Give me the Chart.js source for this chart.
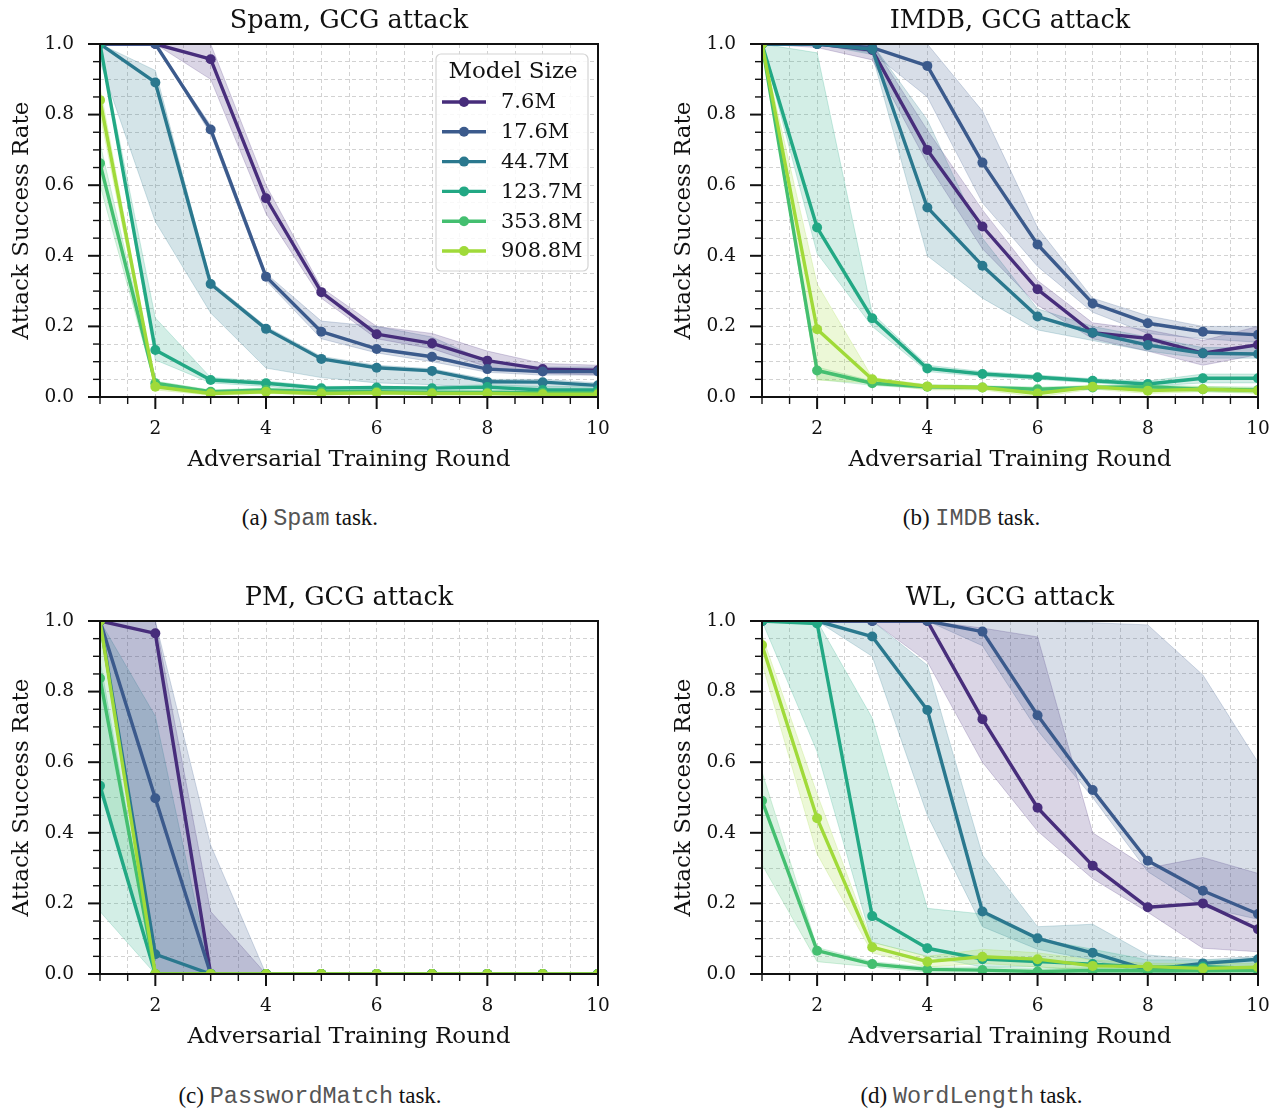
<!DOCTYPE html>
<html>
<head>
<meta charset="utf-8">
<script src="https://cdn.jsdelivr.net/npm/chart.js@4.4.1/dist/chart.umd.min.js"></script>
<style>
  html, body { margin: 0; padding: 0; background: #ffffff; }
  body { width: 1281px; height: 1112px; position: relative; overflow: hidden; }
  canvas { position: absolute; }
  .cap { position: absolute; text-align: center; font-family: 'Liberation Serif', serif; font-size: 23px; color: #111; line-height: 26px; white-space: nowrap; }
  .cap span { font-family: 'Liberation Mono', monospace; font-size: 23.5px; color: #555; }
</style>
</head>
<body>
<canvas id="cSpam" width="620" height="475" style="left:0px;top:0px"></canvas>
<canvas id="cImdb" width="619" height="475" style="left:662px;top:0px"></canvas>
<canvas id="cPm" width="620" height="475" style="left:0px;top:577px"></canvas>
<canvas id="cWl" width="619" height="475" style="left:662px;top:577px"></canvas>

<div class="cap" style="left:0px;width:620px;top:505px">(a) <span>Spam</span> task.</div>
<div class="cap" style="left:662px;width:619px;top:505px">(b) <span>IMDB</span> task.</div>
<div class="cap" style="left:0px;width:620px;top:1083px">(c) <span>PasswordMatch</span> task.</div>
<div class="cap" style="left:662px;width:619px;top:1083px">(d) <span>WordLength</span> task.</div>

<script>
// Adversarial training rounds and model sizes
const rounds = [1, 2, 3, 4, 5, 6, 7, 8, 9, 10];
const modelSizes = ['7.6M', '17.6M', '44.7M', '123.7M', '353.8M', '908.8M'];
const xTickLabels = [2, 4, 6, 8, 10];
const yTickLabels = [0.0, 0.2, 0.4, 0.6, 0.8, 1.0];
const seriesColors = ['#472d7b', '#3b5a8c', '#2a788e', '#22a884', '#44bf70', '#a0da39'];

// Spam task: mean attack success rate and band limits (one row per model size)
const spamMean = [
  [1, 1, 0.957, 0.563, 0.297, 0.178, 0.152, 0.103, 0.079, 0.076],
  [1, 1, 0.758, 0.341, 0.185, 0.136, 0.114, 0.079, 0.072, 0.072],
  [1, 0.891, 0.320, 0.193, 0.108, 0.083, 0.074, 0.043, 0.042, 0.033],
  [1, 0.133, 0.048, 0.039, 0.025, 0.027, 0.025, 0.028, 0.020, 0.020],
  [0.662, 0.039, 0.015, 0.020, 0.015, 0.015, 0.013, 0.013, 0.012, 0.012],
  [0.841, 0.029, 0.010, 0.015, 0.010, 0.012, 0.010, 0.010, 0.008, 0.008]
];
const spamHigh = [
  [1, 1, 1.0, 0.600, 0.310, 0.200, 0.180, 0.130, 0.095, 0.090],
  [1, 1, 0.770, 0.350, 0.215, 0.200, 0.170, 0.100, 0.085, 0.085],
  [1, 0.925, 0.327, 0.200, 0.115, 0.090, 0.080, 0.050, 0.050, 0.040],
  [1, 0.224, 0.055, 0.045, 0.030, 0.030, 0.030, 0.035, 0.030, 0.030],
  [0.720, 0.045, 0.020, 0.025, 0.020, 0.020, 0.018, 0.018, 0.016, 0.016],
  [0.880, 0.035, 0.015, 0.020, 0.015, 0.016, 0.014, 0.014, 0.012, 0.012]
];
const spamLow = [
  [1, 1, 0.900, 0.520, 0.280, 0.165, 0.137, 0.085, 0.067, 0.062],
  [1, 1, 0.745, 0.330, 0.165, 0.125, 0.100, 0.070, 0.062, 0.062],
  [0.950, 0.497, 0.238, 0.082, 0.055, 0.040, 0.035, 0.025, 0.020, 0.020],
  [1, 0.105, 0.040, 0.030, 0.018, 0.020, 0.018, 0.020, 0.012, 0.012],
  [0.600, 0.030, 0.010, 0.015, 0.010, 0.010, 0.008, 0.008, 0.008, 0.008],
  [0.800, 0.020, 0.005, 0.010, 0.005, 0.008, 0.006, 0.006, 0.004, 0.004]
];

// IMDB task
const imdbMean = [
  [1, 1, 0.983, 0.700, 0.483, 0.305, 0.182, 0.166, 0.124, 0.148],
  [1, 1, 0.990, 0.938, 0.664, 0.432, 0.265, 0.209, 0.185, 0.176],
  [1, 1, 0.985, 0.537, 0.372, 0.228, 0.182, 0.147, 0.124, 0.122],
  [1, 0.480, 0.223, 0.081, 0.065, 0.056, 0.046, 0.037, 0.053, 0.053],
  [1, 0.075, 0.039, 0.029, 0.027, 0.022, 0.027, 0.029, 0.022, 0.020],
  [1, 0.192, 0.050, 0.030, 0.027, 0.010, 0.029, 0.018, 0.022, 0.018]
];
const imdbHigh = [
  [1, 1, 1, 0.756, 0.530, 0.330, 0.210, 0.190, 0.160, 0.200],
  [1, 1, 1, 1.0, 0.810, 0.480, 0.280, 0.230, 0.200, 0.200],
  [1, 1, 1, 0.785, 0.450, 0.250, 0.200, 0.170, 0.140, 0.140],
  [1, 0.975, 0.237, 0.090, 0.072, 0.062, 0.052, 0.045, 0.065, 0.065],
  [1, 0.085, 0.045, 0.035, 0.032, 0.028, 0.032, 0.035, 0.030, 0.028],
  [1, 0.320, 0.055, 0.035, 0.032, 0.020, 0.035, 0.025, 0.030, 0.025]
];
const imdbLow = [
  [1, 0.990, 0.955, 0.662, 0.420, 0.260, 0.165, 0.130, 0.090, 0.120],
  [1, 1, 0.975, 0.850, 0.550, 0.370, 0.240, 0.180, 0.165, 0.155],
  [1, 1, 0.970, 0.400, 0.280, 0.190, 0.160, 0.130, 0.110, 0.110],
  [1, 0.407, 0.200, 0.072, 0.058, 0.050, 0.040, 0.030, 0.040, 0.040],
  [1, 0.050, 0.033, 0.023, 0.022, 0.016, 0.022, 0.022, 0.015, 0.012],
  [1, 0.048, 0.040, 0.020, 0.020, 0.000, 0.022, 0.010, 0.015, 0.010]
];

// PasswordMatch task
const pmMean = [
  [1, 0.965, 0, 0, 0, 0, 0, 0, 0, 0],
  [1, 0.498, 0, 0, 0, 0, 0, 0, 0, 0],
  [1, 0.056, 0, 0, 0, 0, 0, 0, 0, 0],
  [0.533, 0, 0, 0, 0, 0, 0, 0, 0, 0],
  [0.838, 0, 0, 0, 0, 0, 0, 0, 0, 0],
  [1, 0, 0, 0, 0, 0, 0, 0, 0, 0]
];
const pmHigh = [
  [1, 1, 0.177, 0, 0, 0, 0, 0, 0, 0],
  [1, 1, 0.365, 0, 0, 0, 0, 0, 0, 0],
  [1, 0.730, 0, 0, 0, 0, 0, 0, 0, 0],
  [0.890, 0, 0, 0, 0, 0, 0, 0, 0, 0],
  [1, 0, 0, 0, 0, 0, 0, 0, 0, 0],
  [1, 0, 0, 0, 0, 0, 0, 0, 0, 0]
];
const pmLow = [
  [1, 0, 0, 0, 0, 0, 0, 0, 0, 0],
  [1, 0, 0, 0, 0, 0, 0, 0, 0, 0],
  [1, 0, 0, 0, 0, 0, 0, 0, 0, 0],
  [0.177, 0, 0, 0, 0, 0, 0, 0, 0, 0],
  [0.550, 0, 0, 0, 0, 0, 0, 0, 0, 0],
  [1, 0, 0, 0, 0, 0, 0, 0, 0, 0]
];

// WordLength task
const wlMean = [
  [1, 1, 1, 1, 0.722, 0.471, 0.307, 0.189, 0.200, 0.127],
  [1, 1, 1, 1, 0.970, 0.733, 0.521, 0.321, 0.236, 0.170],
  [1, 1, 0.956, 0.748, 0.177, 0.101, 0.060, 0.012, 0.030, 0.042],
  [1, 0.993, 0.164, 0.073, 0.042, 0.035, 0.028, 0.019, 0.021, 0.016],
  [0.491, 0.066, 0.028, 0.013, 0.011, 0.007, 0.010, 0.009, 0.009, 0.010],
  [0.932, 0.441, 0.076, 0.035, 0.049, 0.042, 0.023, 0.021, 0.016, 0.019]
];
const wlHigh = [
  [1, 1, 1, 1, 0.980, 0.955, 0.400, 0.300, 0.330, 0.285],
  [1, 1, 1, 1, 1, 1, 0.995, 0.989, 0.847, 0.600],
  [1, 1, 1, 0.875, 0.337, 0.134, 0.141, 0.054, 0.040, 0.050],
  [1, 1, 0.725, 0.186, 0.170, 0.100, 0.070, 0.040, 0.040, 0.040],
  [0.573, 0.075, 0.035, 0.020, 0.020, 0.015, 0.018, 0.015, 0.015, 0.015],
  [0.960, 0.510, 0.090, 0.050, 0.070, 0.060, 0.040, 0.030, 0.030, 0.030]
];
const wlLow = [
  [1, 1, 1, 0.885, 0.600, 0.405, 0.270, 0.175, 0.073, 0.063],
  [1, 1, 1, 1, 0.930, 0.690, 0.500, 0.290, 0.190, 0.155],
  [1, 1, 0.900, 0.450, 0.134, 0.070, 0.040, 0.000, 0.010, 0.020],
  [1, 0.630, 0.090, 0.050, 0.020, 0.020, 0.010, 0.010, 0.010, 0.005],
  [0.310, 0.035, 0.020, 0.005, 0.005, 0.000, 0.005, 0.004, 0.004, 0.005],
  [0.880, 0.340, 0.060, 0.020, 0.030, 0.020, 0.010, 0.010, 0.010, 0.010]
];

const SERIF = "'DejaVu Serif', serif";
Chart.defaults.font.family = SERIF;
Chart.defaults.color = '#111';

function rgba(hex, a) {
  const n = parseInt(hex.slice(1), 16);
  return `rgba(${(n >> 16) & 255},${(n >> 8) & 255},${n & 255},${a})`;
}
const isMultiple = (v, step) => Math.abs(v / step - Math.round(v / step)) < 1e-6;
const toPoints = vals => rounds.map((r, i) => ({ x: r, y: vals[i] }));

// Axes frame plus major/minor tick marks, drawn on top of the data
const frameAndTicks = {
  id: 'frameAndTicks',
  afterDatasetsDraw(chart) {
    const { ctx, chartArea: a, scales: { x, y } } = chart;
    ctx.save();
    ctx.strokeStyle = '#111';
    ctx.lineCap = 'butt';
    x.ticks.forEach(t => {
      const px = x.getPixelForValue(t.value);
      const major = xTickLabels.some(v => Math.abs(v - t.value) < 1e-6);
      ctx.lineWidth = major ? 2 : 1.4;
      ctx.beginPath();
      ctx.moveTo(px, a.bottom);
      ctx.lineTo(px, a.bottom + (major ? 12 : 7));
      ctx.stroke();
    });
    y.ticks.forEach(t => {
      const py = y.getPixelForValue(t.value);
      const major = isMultiple(t.value, 0.2);
      ctx.lineWidth = major ? 2 : 1.4;
      ctx.beginPath();
      ctx.moveTo(a.left, py);
      ctx.lineTo(a.left - (major ? 12 : 7), py);
      ctx.stroke();
    });
    ctx.lineWidth = 2;
    ctx.strokeRect(a.left, a.top, a.right - a.left, a.bottom - a.top);
    ctx.restore();
  }
};

// "Model Size" legend box inside the upper right of the plot area
const sizeLegend = {
  id: 'sizeLegend',
  afterDraw(chart, args, opts) {
    if (!opts.show) return;
    const { ctx, chartArea: a } = chart;
    const w = 152, h = 217;
    const left = a.right - 10 - w, top = a.top + 10;
    ctx.save();
    ctx.beginPath();
    ctx.roundRect(left, top, w, h, 5);
    ctx.fillStyle = 'rgba(255,255,255,0.85)';
    ctx.fill();
    ctx.strokeStyle = '#d4d4d4';
    ctx.lineWidth = 1.2;
    ctx.stroke();
    ctx.fillStyle = '#111';
    ctx.textBaseline = 'middle';
    ctx.textAlign = 'center';
    ctx.font = `23px ${SERIF}`;
    ctx.fillText('Model Size', left + w / 2 + 1, top + 18);
    ctx.textAlign = 'left';
    ctx.font = `21px ${SERIF}`;
    modelSizes.forEach((s, i) => {
      const cy = top + 48 + i * 29.8;
      ctx.strokeStyle = seriesColors[i];
      ctx.lineWidth = 3.4;
      ctx.beginPath();
      ctx.moveTo(left + 6, cy);
      ctx.lineTo(left + 50, cy);
      ctx.stroke();
      ctx.fillStyle = seriesColors[i];
      ctx.beginPath();
      ctx.arc(left + 28, cy, 5, 0, Math.PI * 2);
      ctx.fill();
      ctx.fillStyle = '#111';
      ctx.fillText(s, left + 65, cy + 1);
    });
    ctx.restore();
  }
};

function buildChart(canvasId, title, mean, low, high, showLegend, rightPad) {
  const datasets = [];
  // shaded bands: upper edge filled down to the following lower edge
  modelSizes.forEach((s, i) => {
    const c = seriesColors[i];
    datasets.push({
      data: toPoints(high[i]), fill: '+1', backgroundColor: rgba(c, 0.2),
      borderColor: rgba(c, 0.22), borderWidth: 1, pointRadius: 0, order: 20 - i, clip: 0
    });
    datasets.push({
      data: toPoints(low[i]), fill: false, backgroundColor: rgba(c, 0.2),
      borderColor: rgba(c, 0.22), borderWidth: 1, pointRadius: 0, order: 20 - i, clip: 0
    });
  });
  // mean curves with markers; larger models are drawn above smaller ones
  modelSizes.forEach((s, i) => {
    const c = seriesColors[i];
    datasets.push({
      label: s, data: toPoints(mean[i]), fill: false, borderColor: c, backgroundColor: c,
      borderWidth: 3.4, pointRadius: 5, pointBackgroundColor: c, pointBorderWidth: 0,
      borderJoinStyle: 'round', order: 10 - i, clip: 0
    });
  });

  return new Chart(document.getElementById(canvasId), {
    type: 'line',
    data: { datasets },
    plugins: [frameAndTicks, sizeLegend],
    options: {
      responsive: false,
      animation: false,
      devicePixelRatio: 1,
      layout: { padding: { left: 0, right: rightPad, top: 0, bottom: 0 } },
      elements: { line: { tension: 0 } },
      plugins: {
        legend: { display: false },
        tooltip: { enabled: false },
        sizeLegend: { show: showLegend },
        title: {
          display: true, text: title, color: '#111', fullSize: false,
          font: { family: SERIF, size: 25.5, weight: 'normal' },
          padding: { top: 6, bottom: 7.4 }
        }
      },
      scales: {
        x: {
          type: 'linear', min: 1, max: 10,
          afterFit(s) { s.height = 78; },
          ticks: {
            stepSize: 0.5, maxTicksLimit: 100, autoSkip: false, maxRotation: 0,
            padding: 0, color: '#111', font: { size: 18.5 },
            callback: v => xTickLabels.some(t => Math.abs(t - v) < 1e-6) ? String(Math.round(v)) : ''
          },
          // invisible tick segments only reserve the gap between axis and labels
          grid: { color: '#d2d2d2', lineWidth: 1, drawTicks: true, tickLength: 21, tickColor: 'rgba(0,0,0,0)' },
          border: { display: false, dash: [4, 3] },
          title: {
            display: true, text: 'Adversarial Training Round', color: '#111',
            font: { size: 23 }, padding: { top: 0, bottom: 1 }
          }
        },
        y: {
          type: 'linear', min: 0, max: 1,
          afterFit(s) { s.width = 100; },
          ticks: {
            stepSize: 0.05, maxTicksLimit: 100, autoSkip: false,
            padding: 26, color: '#111', font: { size: 18.5 },
            callback: v => yTickLabels.some(t => Math.abs(t - v) < 1e-6) ? v.toFixed(1) : ''
          },
          grid: { color: '#d2d2d2', lineWidth: 1, drawTicks: false },
          border: { display: false, dash: [4, 3] },
          title: {
            display: true, text: 'Attack Success Rate', color: '#111',
            font: { size: 23 }, padding: { top: 8, bottom: 0 }
          }
        }
      }
    }
  });
}

buildChart('cSpam', 'Spam, GCG attack', spamMean, spamLow, spamHigh, true, 22);
buildChart('cImdb', 'IMDB, GCG attack', imdbMean, imdbLow, imdbHigh, false, 23);
buildChart('cPm', 'PM, GCG attack', pmMean, pmLow, pmHigh, false, 22);
buildChart('cWl', 'WL, GCG attack', wlMean, wlLow, wlHigh, false, 23);
</script>
</body>
</html>
